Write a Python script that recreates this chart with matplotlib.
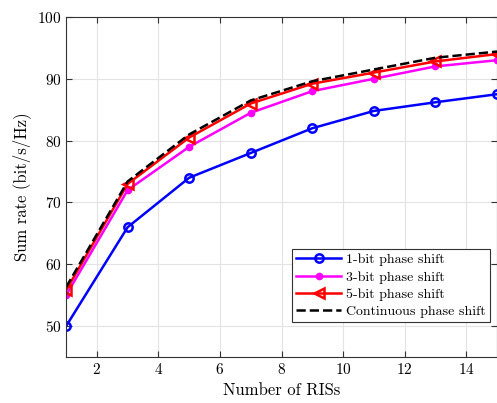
import matplotlib
matplotlib.use("Agg")
import matplotlib.pyplot as plt

plt.rcParams['font.family'] = 'serif'
plt.rcParams['font.serif'] = ['cmr10']
plt.rcParams['mathtext.fontset'] = 'cm'
plt.rcParams['axes.formatter.use_mathtext'] = True

n_ris = [1, 3, 5, 7, 9, 11, 13, 15]
bit1 = [50, 66, 74, 78, 82, 84.8, 86.2, 87.5]
bit3 = [55, 72, 79, 84.5, 88, 90, 92, 93]
bit5 = [55.8, 73, 80.5, 86, 89.2, 91, 92.8, 94]
cont = [56.3, 73.4, 81, 86.5, 89.6, 91.5, 93.4, 94.4]

fig = plt.figure(figsize=(4.97, 4.03), dpi=100)
ax = fig.add_axes([0.133, 0.114, 0.867, 0.844])

ax.plot(n_ris, bit1, color='blue', lw=1.8, marker='o', ms=6, mfc='none', mew=1.8, label='1-bit phase shift')
ax.plot(n_ris, bit3, color='magenta', lw=1.8, marker='o', ms=4.5, label='3-bit phase shift')
ax.plot(n_ris, bit5, color='red', lw=1.8, marker='<', ms=7, mfc='none', mew=1.8, label='5-bit phase shift')
ax.plot(n_ris, cont, color='black', lw=1.8, ls='--', label='Continuous phase shift')

ax.set_xlim(1, 15)
ax.set_ylim(45, 100)
ax.set_xticks([2, 4, 6, 8, 10, 12, 14])
ax.set_yticks([50, 60, 70, 80, 90, 100])
ax.grid(True, color='#e3e3e3', lw=0.8)
ax.set_axisbelow(True)
for s in ax.spines.values():
    s.set_color('#333333')
ax.tick_params(direction='in', labelsize=11, length=4, top=True, right=True, color='#333333')
ax.set_xlabel('Number of RISs', fontsize=12)
ax.set_ylabel('Sum rate (bit/s/Hz)', fontsize=12)

leg = ax.legend(loc='lower right', bbox_to_anchor=(0.984, 0.103), fontsize=10, fancybox=False,
                edgecolor='#333333', framealpha=1, handlelength=3.2, borderpad=0.3,
                labelspacing=0.32, handletextpad=0.4, borderaxespad=0)
leg.get_frame().set_linewidth(0.8)

fig.savefig('out.png', dpi=100)
